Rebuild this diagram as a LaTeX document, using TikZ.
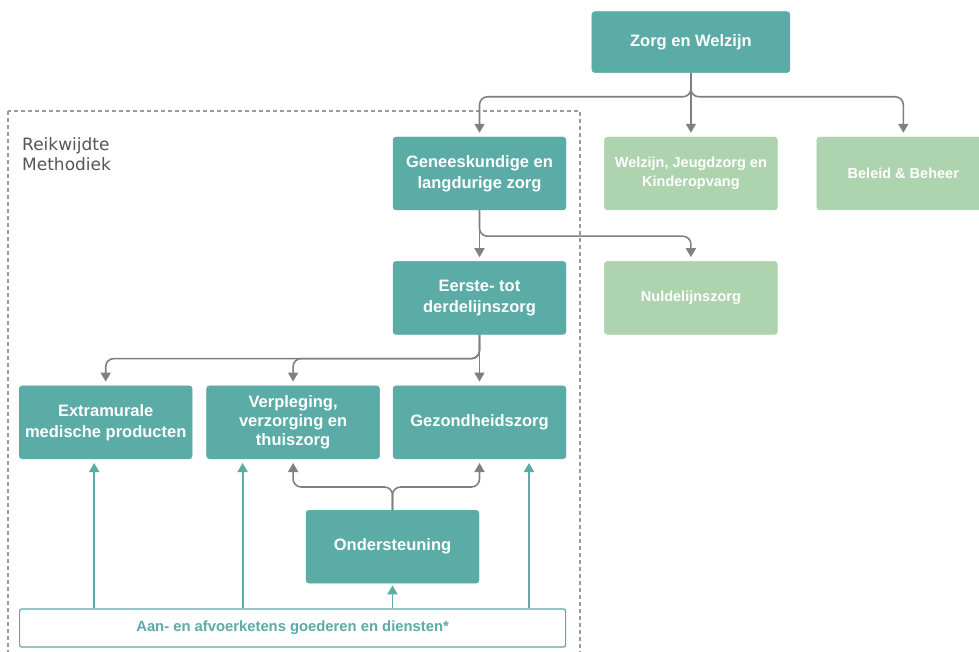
\documentclass[tikz,border=0pt]{standalone}
\usepackage{fontspec}
\setmainfont{Liberation Sans}
\newfontfamily\reikfont{DejaVu Sans}
\usepackage{tikz}
\usetikzlibrary{positioning, arrows.meta}
\definecolor{teal1}{HTML}{5BABA7}
\definecolor{groen1}{HTML}{ADD3AF}
\definecolor{grijs1}{HTML}{808080}
\definecolor{kadergrijs}{HTML}{9A9A9A}
\definecolor{tekstgrijs}{HTML}{555555}
\tikzstyle{zorgbox} = [rectangle, rounded corners=3pt, minimum width=173pt, minimum height=73pt, text centered, align=center, inner sep=2pt, draw=teal1, fill=teal1, text=white, font=\bfseries\fontsize{16.5}{21}\selectfont]
\tikzstyle{hoofd} = [zorgbox, minimum width=198pt, minimum height=61pt]
\tikzstyle{groenbox} = [zorgbox, draw=groen1, fill=groen1, font=\bfseries\fontsize{14.5}{19}\selectfont]
\tikzstyle{keten} = [rectangle, rounded corners=2pt, minimum width=546pt, minimum height=38pt, text centered, line width=1.2pt, draw=teal1, fill=white, text=teal1, font=\bfseries\fontsize{14.8}{18}\selectfont]
\tikzstyle{kader} = [dashed, dash pattern=on 4pt off 3pt, line width=1.2pt, draw=kadergrijs]
\tikzstyle{arrow} = [line width=1.6pt, draw=grijs1, rounded corners=8pt, shorten >=4pt, -{Triangle[width=10pt,length=9pt]}, color=grijs1]
\tikzstyle{tarrow} = [line width=1.8pt, draw=teal1, -{Triangle[width=10pt,length=9pt]}, color=teal1]

\begin{document}
\begin{tikzpicture}[x=1pt, y=-1pt]
		\useasboundingbox (0,0) rectangle (979,652);
		
		\draw [kader] (8,111) rectangle (580,664);
		\node (reik) [anchor=north west, align=left, inner sep=0pt, text=tekstgrijs, font=\reikfont\fontsize{17}{20}\selectfont] at (22,137) {Reikwijdte\\Methodiek};
		
		\node (gen) [zorgbox] at (479.5,173.5) {Geneeskundige en\\langdurige zorg};
		\node (welz) [groenbox, right=38pt of gen] {Welzijn, Jeugdzorg en\\Kinderopvang};
		\node (beleid) [groenbox, right=39pt of welz] {Beleid \& Beheer};
		\node (zorg) [hoofd, above=64pt of welz] {Zorg en Welzijn};
		
		\node (eerste) [zorgbox, below=51pt of gen] {Eerste- tot\\derdelijnszorg};
		\node (nul) [groenbox, below=51pt of welz] {Nuldelijnszorg};
		
		\node (gezond) [zorgbox, below=51pt of eerste] {Gezondheidszorg};
		\node (verpl) [zorgbox, left=13pt of gezond, font=\bfseries\fontsize{16.5}{19}\selectfont] {Verpleging,\\verzorging en\\thuiszorg};
		\node (extra) [zorgbox, left=14pt of verpl] {Extramurale\\medische producten};
		
		\node (onder) [zorgbox, below=51pt of gezond, xshift=-87pt] {Ondersteuning};
		\node (aan) [keten, anchor=north west] at ([yshift=-25pt]onder.south -| extra.west) {Aan- en afvoerketens goederen en diensten*};
		
		\coordinate (in1) at ([xshift=-11.5pt, yshift=-4pt]extra.south);
		\coordinate (in2) at ([xshift=-50.5pt, yshift=-4pt]verpl.south);
		\coordinate (in3) at ([yshift=-2pt]onder.south);
		\coordinate (in4) at ([xshift=49.5pt, yshift=-4pt]gezond.south);
		
		\draw [arrow] (zorg.south) -- ++(0,24) -| (gen.north);
		\draw [arrow] (zorg.south) -- (welz.north);
		\draw [arrow] (zorg.south) -- ++(0,24) -| (beleid.north);
		
		\draw [arrow] (gen.south) -- (eerste.north);
		\draw [arrow] (gen.south) -- ++(0,26) -| (nul.north);
		
		\draw [arrow] (eerste.south) -- (gezond.north);
		\draw [arrow] (eerste.south) -- ++(0,24) -| (verpl.north);
		\draw [arrow] (eerste.south) -- ++(0,24) -| (extra.north);
		
		\draw [arrow] (onder.north) -- ++(0,-23) -| (verpl.south);
		\draw [arrow] (onder.north) -- ++(0,-23) -| (gezond.south);
		
		\draw [tarrow] (aan.north -| in1) -- (in1);
		\draw [tarrow] (aan.north -| in2) -- (in2);
		\draw [tarrow] (aan.north -| in3) -- (in3);
		\draw [tarrow] (aan.north -| in4) -- (in4);
		
\end{tikzpicture}
\end{document}
